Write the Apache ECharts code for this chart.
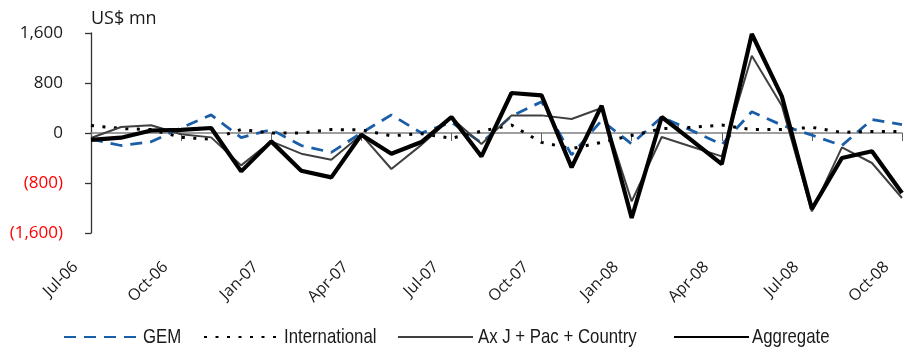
<!DOCTYPE html>
<html>
<head>
<meta charset="utf-8">
<script src="https://cdn.jsdelivr.net/npm/echarts@6/dist/echarts.min.js"></script>
<style>
  html, body { margin: 0; padding: 0; background: #fff; }
  #chart { width: 906px; height: 352px; }
</style>
</head>
<body>
<div id="chart"></div>
<script>
// Monthly flows, US$ mn
const months = [
  'Jul-06','Aug-06','Sep-06','Oct-06','Nov-06','Dec-06',
  'Jan-07','Feb-07','Mar-07','Apr-07','May-07','Jun-07',
  'Jul-07','Aug-07','Sep-07','Oct-07','Nov-07','Dec-07',
  'Jan-08','Feb-08','Mar-08','Apr-08','May-08','Jun-08',
  'Jul-08','Aug-08','Sep-08','Oct-08'
];
const gem = [-100, -200, -140, 80, 290, -75, 55, -200, -310, 0, 290, 0, 170, -155,
             270, 500, -350, 200, -175, 255, 40, -185, 340, 125, -35, -200, 215, 135];
const international = [120, 72, 55, -70, -100, 55, 0, 0, 55, 50, -45, -10, -85, 30,
                       128, -150, -250, -150, -40, 70, 90, 128, 55, 55, 90, 10, 25, 25];
const axjPacCountry = [-80, 95, 125, -20, -70, -518, -134, -331, -427, -27, -576, -190, 240, -175,
                       282, 282, 224, 400, -1094, -64, -219, -374, 1237, 437, -1254, -230, -480, -1040];
const aggregate = [-110, -75, 40, 50, 80, -614, -134, -603, -710, -27, -331, -145, 256, -375,
                   640, 602, -550, 437, -1360, 256, -118, -497, 1584, 586, -1216, -400, -293, -960];
const yTicks = [-1600, -800, 0, 800, 1600];

const seriesNames = ['GEM', 'International', 'AxJ + Pac + Country', 'Aggregate'];
const seriesLegendText = ['GEM', 'International', 'Ax J + Pac + Country', 'Aggregate'];
const legendIconLeft = [63, 203, 397, 673];
const legendTextLeft = [143, 284, 478, 752];

const chart = echarts.init(document.getElementById('chart'), null, { renderer: 'canvas' });

function fmtY(v) {
  const s = Math.abs(v).toLocaleString('en-US');
  return v < 0 ? '(' + s + ')' : s;
}

const labelFont = '"Open Sans", "Noto Sans", sans-serif';
const legendFont = '"Liberation Sans", Arial, sans-serif';
const legendY = 337;

// Legend captions, condensed horizontally to a narrow face
const legendCaptions = seriesLegendText.map((t, i) => ({
  type: 'text',
  x: legendTextLeft[i], y: legendY,
  scaleX: 0.8,
  silent: true,
  style: {
    text: t, x: 0, y: 0,
    fontFamily: legendFont, fontSize: 21, fill: '#1a1a1a',
    verticalAlign: 'middle', align: 'left'
  }
}));

const option = {
  animation: false,
  backgroundColor: '#ffffff',
  grid: { left: 91, right: 4, top: 33, bottom: 119, containLabel: false, outerBoundsMode: 'none' },
  graphic: [{
    type: 'text', x: 91, y: 19,
    style: { text: 'US$ mn', fontFamily: labelFont, fontSize: 18, fill: '#1a1a1a', verticalAlign: 'middle' }
  }].concat(legendCaptions),
  legend: seriesNames.map((n, i) => ({
    data: [n],
    left: legendIconLeft[i],
    top: legendY - 7,
    itemWidth: 75,
    itemHeight: 14,
    itemGap: 0,
    padding: 0,
    formatter: () => '',
    itemStyle: { opacity: 0 },
    textStyle: { fontSize: 1 },
    selectedMode: false
  })),
  xAxis: {
    type: 'category',
    data: months,
    boundaryGap: false,
    axisLine: { show: true, onZero: true, lineStyle: { color: '#808080', width: 1.5 } },
    axisTick: { show: true, interval: 2, length: 8, lineStyle: { color: '#606060', width: 1 } },
    axisLabel: {
      interval: 2, rotate: 45, margin: 16,
      padding: [0, 22, 0, 0],
      fontFamily: labelFont, fontSize: 16, color: '#1a1a1a'
    },
    splitLine: { show: false }
  },
  yAxis: {
    type: 'value',
    min: yTicks[0], max: yTicks[yTicks.length - 1], interval: 800,
    axisLine: { show: true, lineStyle: { color: '#333333', width: 1.3 } },
    axisTick: { show: true, length: 6, lineStyle: { color: '#333333', width: 1.3 } },
    axisLabel: {
      margin: 28, fontFamily: labelFont, fontSize: 17,
      formatter: fmtY,
      color: v => (Number(v) < 0 ? '#ff0000' : '#1a1a1a')
    },
    splitLine: { show: false }
  },
  series: [
    {
      name: seriesNames[0], type: 'line', data: gem, symbol: 'none', z: 2,
      lineStyle: { color: '#1a5ea8', width: 2.8, type: [12, 8] },
      itemStyle: { color: '#1a5ea8' }
    },
    {
      name: seriesNames[1], type: 'line', data: international, symbol: 'none', z: 3,
      lineStyle: { color: '#000000', width: 3, type: [3, 8.5] },
      itemStyle: { color: '#000000' }
    },
    {
      name: seriesNames[2], type: 'line', data: axjPacCountry, symbol: 'none', z: 4,
      lineStyle: { color: '#404040', width: 2 },
      itemStyle: { color: '#404040' }
    },
    {
      name: seriesNames[3], type: 'line', data: aggregate, symbol: 'none', z: 5,
      lineStyle: { color: '#000000', width: 4.2 },
      itemStyle: { color: '#000000' }
    }
  ]
};

chart.setOption(option);
</script>
</body>
</html>
